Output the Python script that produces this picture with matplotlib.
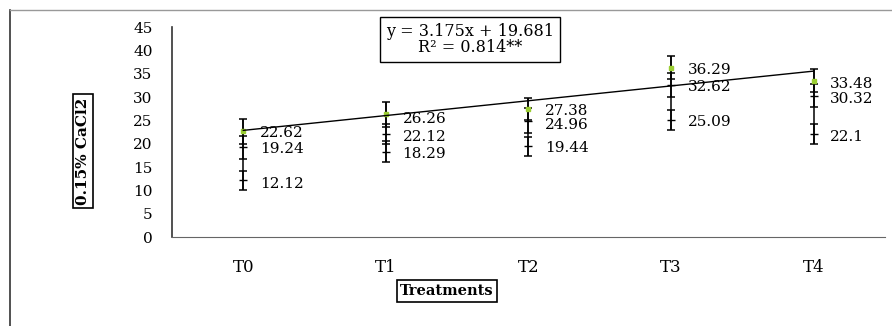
import numpy as np
import matplotlib
matplotlib.use("Agg")
import matplotlib.pyplot as plt
from matplotlib.lines import Line2D

treatments = ["T0", "T1", "T2", "T3", "T4"]
s1 = [22.62, 26.26, 27.38, 36.29, 33.48]
s2 = [19.24, 22.12, 24.96, 32.62, 30.32]
s3 = [12.12, 18.29, 19.44, 25.09, 22.1]
e1 = [2.7, 2.6, 2.4, 2.5, 2.5]
e2 = [2.5, 2.1, 2.6, 2.6, 2.5]
e3 = [2.1, 2.2, 2.0, 2.2, 2.1]
# vertical shift of the value labels (data units)
lab_shift = [
    [-0.1, -0.1, -0.5],
    [-0.6, -0.3, -0.1],
    [0.0, -0.6, -0.1],
    [-0.1, -0.1, 0.0],
    [-0.3, -0.3, -0.3],
]

plt.rcParams['font.family'] = ['DejaVu Serif']

fig = plt.figure(figsize=(8.92, 3.26), dpi=100)
ax = fig.add_axes([0.1928, 0.273, 0.7992, 0.644])

x = np.arange(len(treatments))
lo = np.array(s3) - np.array(e3)
hi = np.array(s1) + np.array(e1)
ax.vlines(x, lo, hi, color='black', linewidth=1.1)
for vals, errs in [(s3, e3), (s2, e2), (s1, e1)]:
    ax.errorbar(x, vals, yerr=errs, fmt='none', ecolor='black', elinewidth=1.1,
                capsize=3, capthick=1.1)
ax.plot(x, s2, linestyle='none', marker='_', markersize=6, color='black')
ax.plot(x, s3, linestyle='none', marker='_', markersize=6, color='black')
ax.plot(x, s1, linestyle='none', marker='s', markersize=2.5, color='#9acd32')

# trend line on first series (x = 1..5)
k, b = np.polyfit(x + 1, s1, 1)
ax.plot(x, k * (x + 1) + b, color='black', linewidth=1.0)

for i in range(len(treatments)):
    for j, vals in enumerate([s1, s2, s3]):
        ax.annotate(f"{vals[i]:g}", (x[i], vals[i] + lab_shift[i][j]),
                    xytext=(12, -4), textcoords='offset points',
                    ha='left', va='baseline', fontsize=11)

fig.text(470 / 892, 1 - 39.5 / 326, f"y = {k:.3f}x + {b:.3f}\nR\u00b2 = 0.814**",
         ha='center', va='center', fontsize=11.5, linespacing=1.0,
         bbox=dict(boxstyle='square,pad=0.35', fc='white', ec='black', lw=1))

ax.set_xlim(-0.5, 4.5)
ax.set_ylim(0, 45)
ax.set_yticks(range(0, 46, 5))
ax.set_xticks(x)
ax.set_xticklabels(treatments, fontsize=12)
ax.tick_params(axis='both', length=0)
ax.tick_params(axis='x', pad=16)
ax.tick_params(axis='y', pad=14, labelsize=11)
for sp in ['top', 'right']:
    ax.spines[sp].set_visible(False)
ax.spines['left'].set_color('#333333')
ax.spines['bottom'].set_color('#666666')
ax.spines['left'].set_linewidth(1.2)

fig.text(83 / 892, 1 - 151 / 326, "0.15% CaCl2", rotation=90, ha='center',
         va='center', fontsize=11, fontweight='bold',
         bbox=dict(boxstyle='square,pad=0.2', fc='white', ec='black', lw=1.2))
fig.text(447 / 892, 1 - 291 / 326, "Treatments", ha='center', va='center',
         fontsize=10.5, fontweight='bold',
         bbox=dict(boxstyle='square,pad=0.25', fc='white', ec='black', lw=1.2))

# outer frame
fig.add_artist(Line2D([10 / 892, 10 / 892], [0, 1 - 10 / 326], color='#333333',
                      lw=1.2, transform=fig.transFigure))
fig.add_artist(Line2D([10 / 892, 1], [1 - 10 / 326, 1 - 10 / 326], color='#999999',
                      lw=1.0, transform=fig.transFigure))

fig.savefig("out.png", dpi=100)
